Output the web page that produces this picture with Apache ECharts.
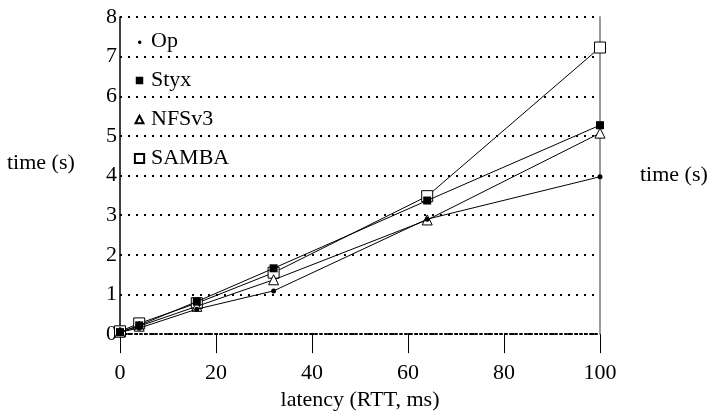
<!DOCTYPE html>
<html>
<head>
<meta charset="utf-8">
<script src="https://cdn.jsdelivr.net/npm/echarts@6/dist/echarts.min.js"></script>
<style>html,body{margin:0;padding:0;background:#fff}#c{width:724px;height:416px}</style>
</head>
<body>
<div id="c"></div>
<script>
const latency = [0, 4, 16, 32, 64, 100];
const op = [0.05, 0.15, 0.63, 1.09, 2.9, 3.97];
const styx = [0.05, 0.22, 0.82, 1.66, 3.37, 5.27];
const nfsv3 = [0.05, 0.2, 0.7, 1.37, 2.88, 5.07];
const samba = [0.07, 0.27, 0.78, 1.55, 3.48, 7.23];
const xTicks = [0, 20, 40, 60, 80, 100];
const yTicks = [0, 1, 2, 3, 4, 5, 6, 7, 8];

const FONT = 'Liberation Serif';
const pad = 'M0 0L0 0.01M10 10L10 9.99';
const pair = a => latency.map((x, i) => [x, a[i]]);
function mk(name, arr, symbol, size, filled, z) {
  return {
    name, type: 'line', data: pair(arr), symbol, symbolSize: size,
    lineStyle: { color: '#000', width: 1 },
    itemStyle: filled ? { color: '#000', borderWidth: 0 } : { color: '#fff', borderColor: '#000', borderWidth: 1 },
    z: z
  };
}
const chart = echarts.init(document.getElementById('c'), null, { renderer: 'canvas' });
chart.setOption({
  animation: false,
  backgroundColor: '#fff',
  textStyle: { fontFamily: FONT, color: '#000' },
  title: {
    text: 'time (s)', left: 2, top: 147,
    textStyle: { fontFamily: FONT, fontSize: 22, fontWeight: 'normal', color: '#000' }
  },
  grid: { left: 120, right: 124, top: 17, bottom: 79, containLabel: false },
  legend: {
    orient: 'vertical', left: 128, top: 25, itemWidth: 11, itemHeight: 11, itemGap: 16,
    textStyle: { fontFamily: FONT, fontSize: 22, color: '#000', lineHeight: 23, padding: [0, 0, 0, 1] },
    data: [
      { name: 'Op', icon: 'path://' + pad + 'M6.6 5A1.6 1.6 0 1 1 6.59 4.98Z' },
      { name: 'Styx', icon: 'path://' + pad + 'M1.6 1.6H8.4V8.4H1.6Z' },
      { name: 'NFSv3', icon: 'path://' + pad + 'M5 1.6L8.6 8.4H1.4Z' },
      { name: 'SAMBA', icon: 'path://' + pad + 'M0.8 0.8H9.2V9.2H0.8Z' }
    ]
  },
  xAxis: {
    type: 'value', min: 0, max: 100, interval: 20,
    name: 'latency (RTT, ms)', nameLocation: 'middle', nameGap: 54,
    nameTextStyle: { fontFamily: FONT, fontSize: 22, color: '#000' },
    axisLine: { show: true, lineStyle: { color: '#000', width: 2, type: [2, 3] } },
    axisTick: { show: true, length: 19, lineStyle: { color: '#000', width: 1 } },
    axisLabel: { fontFamily: FONT, fontSize: 22, color: '#000', margin: 28,
      formatter: v => xTicks.includes(v) ? String(v) : '' },
    splitLine: { show: false }
  },
  yAxis: [{
    type: 'value', min: 0, max: 8, interval: 1, position: 'left',
    axisLine: { show: true, lineStyle: { color: '#000', width: 1.5 } },
    axisTick: { show: false },
    axisLabel: { fontFamily: FONT, fontSize: 22, color: '#000', margin: 3,
      formatter: v => yTicks.includes(v) ? String(v) : '' },
    splitLine: { show: true, lineStyle: { color: '#000', width: 2, type: [2, 6] } }
  }, {
    type: 'value', min: 0, max: 8, interval: 1, position: 'right',
    name: 'time (s)', nameLocation: 'middle', nameRotate: 0, nameGap: 40,
    nameTextStyle: { fontFamily: FONT, fontSize: 22, color: '#000' },
    axisLine: { show: true, lineStyle: { color: '#999', width: 2 } },
    axisTick: { show: false }, axisLabel: { show: false }, splitLine: { show: false }
  }],
  series: [
    mk('Op', op, 'circle', 5, true, 6),
    mk('Styx', styx, 'rect', 8, true, 5),
    mk('NFSv3', nfsv3, 'triangle', 10, false, 4),
    mk('SAMBA', samba, 'rect', 11, false, 3)
  ]
});
</script>
</body>
</html>
